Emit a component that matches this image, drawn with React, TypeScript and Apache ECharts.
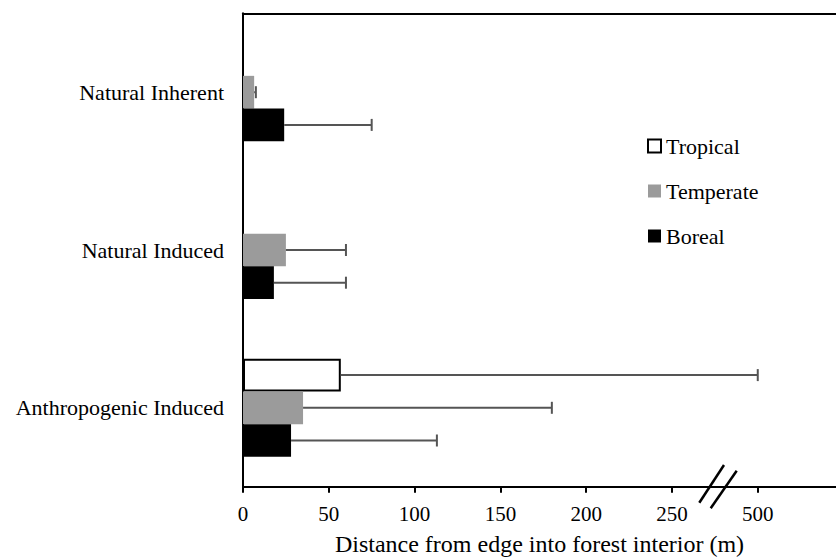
import React, { useEffect, useRef } from "react";
import * as echarts from "echarts";

const categories = ["Natural Inherent", "Natural Induced", "Anthropogenic Induced"];
const seriesNames = ["Tropical", "Temperate", "Boreal"];
const tropicalValues: (number | null)[] = [null, null, 57];
const temperateValues: (number | null)[] = [6.5, 25, 35];
const borealValues: (number | null)[] = [24, 18, 28];
const tropicalUpper: (number | null)[] = [null, null, 500];
const temperateUpper: (number | null)[] = [7.5, 60, 180];
const borealUpper: (number | null)[] = [75, 60, 113];
const tickLabels = ["0", "50", "100", "150", "200", "250", "500"];
const tickValues = [0, 50, 100, 150, 200, 250, 500];

// axis break: above 250 the scale is compressed (250 -> 500 spans one interval)
const disp = (v: number) => (v <= 250 ? v : 250 + (v - 250) / 5);

const FONT = "'Liberation Serif', 'Times New Roman', serif";
const BAR_W = 32.7;
const X_MAX = 345.6;

export default function App() {
  const ref = useRef<HTMLDivElement>(null);
  useEffect(() => {
    if (!ref.current) return;
    const chart = echarts.init(ref.current, undefined, { renderer: "svg" });
    const values = [tropicalValues, temperateValues, borealValues];
    const uppers = [tropicalUpper, temperateUpper, borealUpper];
    const errData: number[][] = [];
    values.forEach((arr, s) => {
      arr.forEach((v, i) => {
        const u = uppers[s][i];
        if (v != null && u != null) errData.push([disp(v), disp(u), i, s]);
      });
    });
    const tickPos = tickValues.map(disp);
    const labelMap: Record<number, string> = {};
    tickPos.forEach((t, k) => (labelMap[t] = tickLabels[k]));
    const styles = [
      { color: "#ffffff", borderColor: "#000000", borderWidth: 2 },
      { color: "#9b9b9b" },
      { color: "#000000" },
    ];
    chart.setOption({
      animation: false,
      backgroundColor: "#ffffff",
      grid: {
        left: 243,
        top: 13.3,
        right: 0,
        height: 473.4,
        containLabel: false,
        outerBoundsMode: "none",
      },
      legend: {
        orient: "vertical",
        left: 642,
        top: 130,
        itemWidth: 13,
        itemHeight: 13,
        itemGap: 23,
        data: seriesNames,
        icon: "rect",
        textStyle: { fontFamily: FONT, fontSize: 22, color: "#000" },
      },
      xAxis: [
        {
          type: "value",
          min: 0,
          max: X_MAX,
          name: "Distance from edge into forest interior (m)",
          nameLocation: "middle",
          nameGap: 45,
          nameTextStyle: { fontFamily: FONT, fontSize: 24, color: "#000" },
          axisLine: { show: true, lineStyle: { color: "#000", width: 2 } },
          axisTick: { show: true, length: 6, customValues: tickPos, lineStyle: { color: "#000", width: 2 } },
          axisLabel: {
            fontFamily: FONT,
            fontSize: 21,
            color: "#000",
            margin: 17,
            customValues: tickPos,
            formatter: (v: number) => labelMap[v] ?? "",
          },
          splitLine: { show: false },
        },
        {
          type: "value",
          position: "top",
          min: 0,
          max: X_MAX,
          axisLine: { show: true, onZero: false, lineStyle: { color: "#000", width: 2 } },
          axisTick: { show: false },
          axisLabel: { show: false },
          splitLine: { show: false },
        },
      ],
      yAxis: {
        type: "category",
        inverse: true,
        data: categories,
        axisLine: { show: true, lineStyle: { color: "#000", width: 2 } },
        axisTick: { show: false },
        axisLabel: { fontFamily: FONT, fontSize: 22, color: "#000", margin: 19 },
      },
      series: [
        ...seriesNames.map((name, s) => ({
          name,
          type: "bar",
          barWidth: BAR_W,
          barGap: "0%",
          itemStyle: styles[s],
          data: values[s].map((v) => (v == null ? "-" : disp(v))),
        })),
        {
          name: "errors",
          type: "custom",
          encode: { x: [0, 1], y: 2 },
          data: errData,
          z: 5,
          renderItem: (params: any, api: any) => {
            const p0 = api.coord([api.value(0), api.value(2)]);
            const p1 = api.coord([api.value(1), api.value(2)]);
            const slot = api.value(3);
            const y = p0[1] + (slot - 1) * BAR_W;
            const st = { stroke: "#555555", lineWidth: 2 };
            return {
              type: "group",
              children: [
                { type: "line", shape: { x1: p0[0], y1: y, x2: p1[0], y2: y }, style: st },
                { type: "line", shape: { x1: p1[0], y1: y - 6, x2: p1[0], y2: y + 6 }, style: st },
              ],
            };
          },
        },
      ],
      graphic: [
        { type: "line", shape: { x1: 699.3, y1: 502.7, x2: 724, y2: 465 }, style: { stroke: "#000", lineWidth: 2.5 }, z: 100 },
        { type: "line", shape: { x1: 710.7, y1: 508.3, x2: 736.7, y2: 470.7 }, style: { stroke: "#000", lineWidth: 2.5 }, z: 100 },
      ],
    });
    return () => chart.dispose();
  }, []);
  return (
    <div
      ref={ref}
      style={{ position: "fixed", left: 0, top: 0, width: 836, height: 559, background: "#fff" }}
    />
  );
}
